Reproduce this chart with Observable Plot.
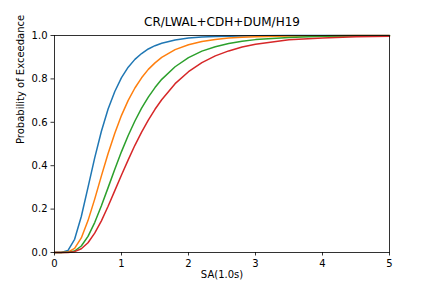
<!DOCTYPE html>
<html>
<head>
<meta charset="utf-8">
<script src="https://cdn.jsdelivr.net/npm/d3@7"></script>
<script src="https://cdn.jsdelivr.net/npm/@observablehq/plot@0.6"></script>
<style>
  html, body { margin: 0; padding: 0; background: #fff; }
</style>
</head>
<body>
<div id="chart"></div>
<script>
const title = "CR/LWAL+CDH+DUM/H19";
const xLabel = "SA(1.0s)";
const yLabel = "Probability of Exceedance";

const sa = [0, 0.1, 0.2, 0.3, 0.4, 0.5, 0.6, 0.7, 0.8, 0.9, 1.0, 1.1, 1.2, 1.3, 1.4, 1.5, 1.6, 1.8, 2.0, 2.2, 2.4, 2.6, 2.8, 3.0, 3.5, 4.0, 4.5, 5.0];

const seriesNames = ["DS1", "DS2", "DS3", "DS4"];
const ds1 = [0, 0.0001, 0.009, 0.061, 0.166, 0.300, 0.436, 0.559, 0.661, 0.742, 0.806, 0.854, 0.890, 0.917, 0.938, 0.953, 0.964, 0.979, 0.988, 0.993, 0.9955, 0.997, 0.998, 0.999, 0.9996, 1.0, 1.0, 1.0];
const ds2 = [0, 0, 0.002, 0.019, 0.067, 0.147, 0.246, 0.353, 0.456, 0.550, 0.632, 0.701, 0.758, 0.805, 0.844, 0.874, 0.899, 0.935, 0.957, 0.972, 0.982, 0.988, 0.992, 0.994, 0.998, 0.999, 0.9996, 0.9998];
const ds3 = [0, 0, 0.0006, 0.007, 0.030, 0.074, 0.138, 0.215, 0.299, 0.384, 0.465, 0.539, 0.606, 0.665, 0.716, 0.760, 0.798, 0.856, 0.898, 0.928, 0.948, 0.963, 0.973, 0.981, 0.991, 0.996, 0.998, 0.999];
const ds4 = [0, 0, 0.0003, 0.004, 0.017, 0.045, 0.089, 0.146, 0.213, 0.285, 0.357, 0.427, 0.494, 0.555, 0.610, 0.660, 0.704, 0.778, 0.833, 0.875, 0.906, 0.929, 0.947, 0.960, 0.980, 0.989, 0.994, 0.997];

const xTicks = [0, 1, 2, 3, 4, 5];
const yTicks = [0, 0.2, 0.4, 0.6, 0.8, 1.0];
const colors = ["#1f77b4", "#ff7f0e", "#2ca02c", "#d62728"];

const allSeries = [ds1, ds2, ds3, ds4];
const rows = [];
allSeries.forEach((vals, i) => {
  vals.forEach((p, j) => rows.push({series: seriesNames[i], sa: sa[j], p}));
});

const chart = Plot.plot({
  width: 432,
  height: 288,
  marginLeft: 54,
  marginRight: 43,
  marginTop: 35,
  marginBottom: 36,
  style: {fontFamily: "DejaVu Sans", fontSize: "10px", color: "#000", background: "#fff"},
  x: {domain: [0, 5], label: null},
  y: {domain: [0, 1], label: null},
  color: {domain: seriesNames, range: colors},
  marks: [
    Plot.line(rows, {x: "sa", y: "p", z: "series", stroke: "series", strokeWidth: 1.5}),
    Plot.frame({stroke: "#000", strokeWidth: 0.8}),
    Plot.axisX({ticks: xTicks, tickSize: 3.5, tickPadding: 3.5, tickFormat: d3.format("d"), label: null, stroke: "#000", strokeWidth: 0.8, fontSize: 10}),
    Plot.axisY({ticks: yTicks, tickSize: 3.5, tickPadding: 3.5, tickFormat: d3.format(".1f"), label: null, stroke: "#000", strokeWidth: 0.8, fontSize: 10}),
    Plot.text([title], {frameAnchor: "top", dy: -10, text: d => d, fontSize: 12, fill: "#000", lineAnchor: "bottom"}),
    Plot.text([xLabel], {frameAnchor: "bottom", dy: 25, text: d => d, fontSize: 10, fill: "#000"}),
    Plot.text([yLabel], {frameAnchor: "left", dx: -34, rotate: -90, text: d => d, fontSize: 10, fill: "#000"})
  ]
});
document.getElementById("chart").appendChild(chart);
</script>
</body>
</html>
